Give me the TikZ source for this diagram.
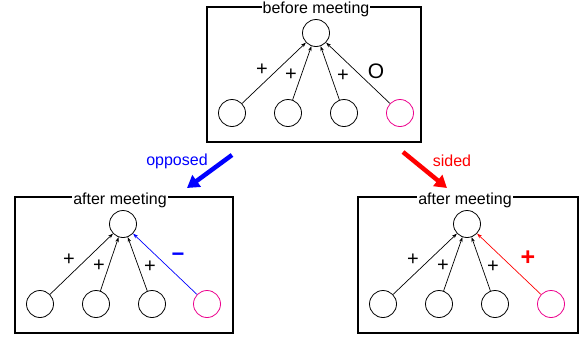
\documentclass[tikz,border=0pt]{standalone}
\usepackage{fontspec}
\setmainfont{Liberation Sans}
\usetikzlibrary{arrows.meta}
\begin{document}
\begin{tikzpicture}[x=1pt,y=-1pt,
  every node/.style={font=\fontsize{16}{19}\selectfont},
  frame/.style={draw=black,line width=1.2pt},
  title/.style={fill=white,inner sep=1pt},
  agent/.style={draw=black,circle,line width=0.8pt,minimum size=27pt,inner sep=0pt},
  odd/.style={agent,draw=magenta},
  link/.style={draw=black,line width=0.7pt,-{Stealth[length=5pt,width=3.5pt]}},
  sign/.style={inner sep=0pt,font=\fontsize{20}{22}\selectfont},
  bigarrow/.style={line width=4.5pt,-{Triangle[length=12pt,width=14pt]}}
]
\useasboundingbox (0,0) rectangle (581,338);

% ---- before meeting ----
\draw[frame] (207,7) rectangle (421,142);
\node[title] (t0) at (316,9) {before meeting};
\node[agent] (c0) at (316,33) {};
\node[agent] (a1) at (232,113) {};
\node[agent] (a2) at (288,113) {};
\node[agent] (a3) at (344,113) {};
\node[odd]   (a4) at (400,113) {};
\draw[link] (a1) -- (c0);
\draw[link] (a2) -- (c0);
\draw[link] (a3) -- (c0);
\draw[link] (a4) -- (c0);
\node[sign] (p1) at (262,70) {+};
\node[sign] (p2) at (291,75) {+};
\node[sign] (p3) at (343,76) {+};
\node[sign,font=\fontsize{21}{24}\selectfont] (p4) at (376,71) {O};

% ---- after meeting: opposed ----
\draw[frame] (15,197) rectangle (233,333);
\node[title] (t1) at (120,200) {after meeting};
\node[agent] (c1) at (123,224) {};
\node[agent] (b1) at (40,304) {};
\node[agent] (b2) at (96,304) {};
\node[agent] (b3) at (152,304) {};
\node[odd]   (b4) at (207,304) {};
\draw[link] (b1) -- (c1);
\draw[link] (b2) -- (c1);
\draw[link] (b3) -- (c1);
\draw[link,draw=blue] (b4) -- (c1);
\node[sign] (q1) at (69,260) {+};
\node[sign] (q2) at (99,266) {+};
\node[sign] (q3) at (150,267) {+};
\node[sign,text=blue,font=\fontsize{22}{24}\bfseries] (q4) at (178,257) {−};

% ---- after meeting: sided ----
\draw[frame] (358,197) rectangle (578,333);
\node[title] (t2) at (465,200) {after meeting};
\node[agent] (c2) at (467,224) {};
\node[agent] (d1) at (383,304) {};
\node[agent] (d2) at (439,304) {};
\node[agent] (d3) at (495,304) {};
\node[odd]   (d4) at (551,304) {};
\draw[link] (d1) -- (c2);
\draw[link] (d2) -- (c2);
\draw[link] (d3) -- (c2);
\draw[link,draw=red] (d4) -- (c2);
\node[sign] (r1) at (413,260) {+};
\node[sign] (r2) at (443,266) {+};
\node[sign] (r3) at (493,267) {+};
\node[sign,text=red,font=\fontsize{25}{28}\bfseries] (r4) at (528,258) {+};

% ---- transitions ----
\coordinate (o1) at (232,155);
\coordinate (o2) at (187,188);
\coordinate (s1) at (403,152);
\coordinate (s2) at (447,188);
\draw[bigarrow,blue] (o1) -- (o2);
\draw[bigarrow,red] (s1) -- (s2);
\node[text=blue] (lo) at (177,161) {opposed};
\node[text=red] (ls) at (452,161) {sided};
\end{tikzpicture}
\end{document}
